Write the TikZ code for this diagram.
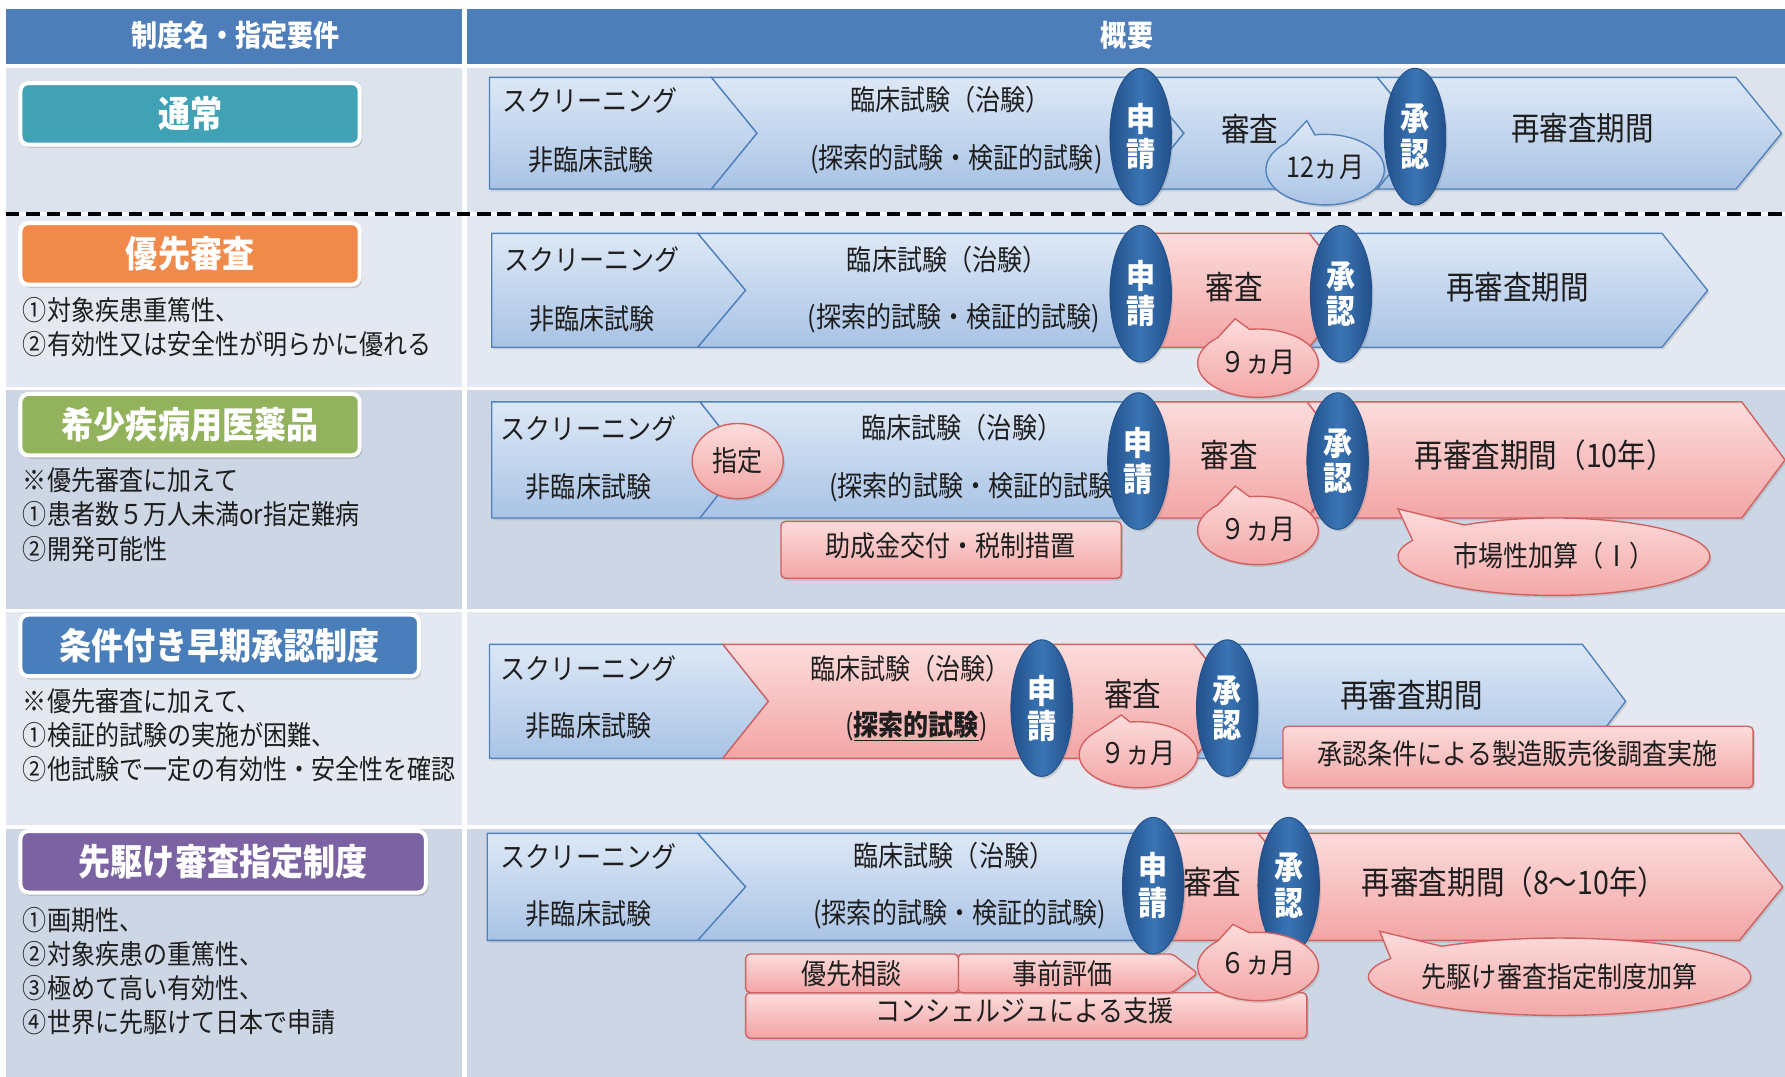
\documentclass[tikz,border=0pt]{standalone}
\usepackage{fontspec}
\setmainfont{Noto Sans CJK JP}[FakeStretch=0.88]
\usetikzlibrary{shapes.geometric,shadows}
\definecolor{hdr}{HTML}{4D7EBA}
\definecolor{rowA}{HTML}{DCE3EC}
\definecolor{rowB}{HTML}{E4E9F1}
\definecolor{rowC}{HTML}{CCD6E4}
\definecolor{txt}{HTML}{1E1E1E}
\definecolor{bTop}{HTML}{DDE8F6}
\definecolor{bBot}{HTML}{A9C3E5}
\definecolor{bLine}{HTML}{4F81BD}
\definecolor{rTop}{HTML}{FCDCDC}
\definecolor{rBot}{HTML}{F3A5A5}
\definecolor{rLine}{HTML}{D45F5F}
\definecolor{eDark}{HTML}{22508A}
\definecolor{eMid}{HTML}{3A74B4}
\definecolor{cTeal}{HTML}{41A2B5}
\definecolor{cOrange}{HTML}{F08A4B}
\definecolor{cGreen}{HTML}{92B35C}
\definecolor{cBlue}{HTML}{4A7EBA}
\definecolor{cPurple}{HTML}{7B62A3}
\tikzset{
  shd/.style={drop shadow={opacity=0.25,shadow xshift=1.5pt,shadow yshift=-2pt}},
  blueCh/.style={top color=bTop, bottom color=bBot, draw=bLine, line width=1.2pt, shd},
  redCh/.style={top color=rTop, bottom color=rBot, draw=rLine, line width=1.2pt, shd},
  jt/.style={text=txt, inner sep=0pt, font=\fontsize{25}{30}\selectfont},
  jtbig/.style={text=txt, inner sep=0pt, font=\fontsize{28.5}{32}\selectfont},
  desc/.style={anchor=west, align=left, text=txt, inner sep=0pt, font=\fontsize{24}{30}\selectfont},
  hdrtxt/.style={text=white, inner sep=0pt, font=\bfseries\fontsize{26}{30}\selectfont},
  titlebox/.style={rounded corners=7pt, draw=white, line width=3.5pt, text=white, inner sep=0pt,
     font=\bfseries\fontsize{32}{36}\selectfont, minimum height=54pt,
     drop shadow={opacity=0.3,shadow xshift=2pt,shadow yshift=-3pt}},
  appEll/.style={ellipse, minimum width=54pt, minimum height=120pt, inner sep=0pt,
     left color=eDark, right color=eDark, middle color=eMid, draw=eDark, line width=0.8pt,
     text=white, align=center, font=\bfseries\fontsize{29}{31}\selectfont, shd},
  pinkbox/.style={rounded corners=4pt, top color=rTop, bottom color=rBot, draw=rLine, line width=1.2pt, shd, inner sep=0pt},
  callB/.style={top color=bTop, bottom color=bBot, draw=bLine, line width=1.2pt, shd},
  callR/.style={top color=rTop, bottom color=rBot, draw=rLine, line width=1.2pt, shd},
}
% style, xL, xR, top, bottom, left notch, right tip
\newcommand\chevpath[7]{\path[#1] (#2,#4) -- (#3,#4) -- ({#3+#7},{(#4+#5)/2}) -- (#3,#5) -- (#2,#5) -- ({#2+#6},{(#4+#5)/2}) -- cycle;}
% style, cx, cy, rx, ry, a1, a2, tipx, tipy
\newcommand\callpath[9]{\path[#1] (#2,#3) ++(#7:#4 and #5) arc[start angle=#7, end angle={#6+360}, x radius=#4, y radius=#5] -- (#8,#9) -- cycle;}
\begin{document}
\begin{tikzpicture}[x=1pt,y=-1pt]
\useasboundingbox (0,0) rectangle (1568,946);
\fill[white] (0,0) rectangle (1568,946);
% header
\fill[hdr] (5,8) rectangle (406,56);
\fill[hdr] (410,8) rectangle (1568,56);
\node[hdrtxt] (h1) at (207,31) {制度名・指定要件};
\node[hdrtxt] (h2) at (990,31) {概要};
% row backgrounds
\fill[rowA] (5,60) rectangle (406,186);   \fill[rowA] (410,60) rectangle (1568,186);
\fill[rowB] (5,190) rectangle (406,340);  \fill[rowB] (410,190) rectangle (1568,340);
\fill[rowC] (5,343) rectangle (406,535);  \fill[rowC] (410,343) rectangle (1568,535);
\fill[rowB] (5,538) rectangle (406,725);  \fill[rowB] (410,538) rectangle (1568,725);
\fill[rowC] (5,728) rectangle (406,946);  \fill[rowC] (410,728) rectangle (1568,946);
\draw[black, line width=3pt, dash pattern=on 12pt off 6pt] (5,188) -- (1568,188);
% title boxes
\node[titlebox, fill=cTeal, minimum width=298pt] (t1) at (167,100) {通常};
\node[titlebox, fill=cOrange, minimum width=298pt] (t2) at (167,223) {優先審査};
\node[titlebox, fill=cGreen, minimum width=298pt] (t3) at (167,373) {希少疾病用医薬品};
\node[titlebox, fill=cBlue, minimum width=350pt] (t4) at (193,567) {条件付き早期承認制度};
\node[titlebox, fill=cPurple, minimum width=356pt] (t5) at (196,757) {先駆け審査指定制度};
% descriptions
\node[desc] (d2) at (20,287) {①対象疾患重篤性、\\②有効性又は安全性が明らかに優れる};
\node[desc] (d3) at (20,452) {※優先審査に加えて\\①患者数５万人未満or指定難病\\②開発可能性};
\node[desc] (d4) at (20,646) {※優先審査に加えて、\\①検証的試験の実施が困難、\\②他試験で一定の有効性・安全性を確認};
\node[desc] (d5) at (20,853) {①画期性、\\②対象疾患の重篤性、\\③極めて高い有効性、\\④世界に先駆けて日本で申請};
% ---------- row 1 ----------
\chevpath{blueCh}{430}{625}{68}{166}{0}{40}
\chevpath{blueCh}{625}{1000}{68}{166}{40}{40}
\chevpath{blueCh}{1000}{1210}{68}{166}{40}{40}
\chevpath{blueCh}{1210}{1525}{68}{166}{40}{40}
% ---------- row 2 ----------
\chevpath{blueCh}{432}{613}{205}{305}{0}{42}
\chevpath{blueCh}{613}{1000}{205}{305}{42}{40}
\chevpath{blueCh}{1150}{1460}{205}{305}{40}{40}
\chevpath{redCh}{1000}{1150}{205}{305}{0}{40}
% ---------- row 3 ----------
\chevpath{blueCh}{432}{615}{353}{455}{0}{40}
\chevpath{blueCh}{615}{1000}{353}{455}{40}{40}
\chevpath{redCh}{1148}{1530}{353}{455}{40}{38}
\chevpath{redCh}{1000}{1148}{353}{455}{0}{40}
% ---------- row 4 ----------
\chevpath{blueCh}{430}{635}{566}{666}{0}{40}
\chevpath{blueCh}{1049}{1390}{566}{666}{40}{38}
\chevpath{redCh}{635}{1049}{566}{666}{40}{40}
% ---------- row 5 ----------
\chevpath{blueCh}{428}{613}{732}{826}{0}{42}
\chevpath{blueCh}{613}{1013}{732}{826}{42}{40}
\chevpath{redCh}{1105}{1528}{732}{826}{40}{38}
\chevpath{redCh}{1013}{1105}{732}{826}{0}{40}
% chevron texts
\node[jt] (s1) at (518,88) {スクリーニング};
\node[jt] (n1) at (519,140) {非臨床試験};
\node[jt] (c1) at (835,88) {臨床試験（治験）};
\node[jt] (e1) at (840,140) {(探索的試験・検証的試験)};
\node[jtbig] (r1) at (1098,113) {審査};
\node[jtbig] (p1) at (1390,113) {再審査期間};
\node[jt] (s2) at (520,228) {スクリーニング};
\node[jt] (n2) at (520,280) {非臨床試験};
\node[jt] (c2) at (832,228) {臨床試験（治験）};
\node[jt] (e2) at (838,280) {(探索的試験・検証的試験)};
\node[jtbig] (r2) at (1084,252) {審査};
\node[jtbig] (p2) at (1333,252) {再審査期間};
\node[jt] (s3) at (517,376) {スクリーニング};
\node[jt] (n3) at (517,428) {非臨床試験};
\node[jt] (c3) at (845,376) {臨床試験（治験）};
\node[jt] (e3) at (857,428) {(探索的試験・検証的試験)};
\node[jtbig] (r3) at (1080,400) {審査};
\node[jtbig] (p3) at (1357,400) {再審査期間（10年）};
\node[jt] (s4) at (517,587) {スクリーニング};
\node[jt] (n4) at (517,638) {非臨床試験};
\node[jt] (c4) at (800,587) {臨床試験（治験）};
\node[jt] (e4) at (805,638) {(\underline{\bfseries 探索的試験})};
\node[jtbig] (r4) at (995,610) {審査};
\node[jtbig] (p4) at (1240,611) {再審査期間};
\node[jt] (s5) at (517,752) {スクリーニング};
\node[jt] (n5) at (517,803) {非臨床試験};
\node[jt] (c5) at (838,752) {臨床試験（治験）};
\node[jt] (e5) at (843,803) {(探索的試験・検証的試験)};
\node[jtbig] (r5) at (1065,775) {審査};
\node[jtbig] (p5) at (1330,775) {再審査期間（8～10年）};
% pink boxes
\node[pinkbox, minimum width=299pt, minimum height=50pt] (b3) at (835.5,483) {};
\node[jt] (b3t) at (835,479) {助成金交付・税制措置};
\node[pinkbox, minimum width=413pt, minimum height=54pt] (b4) at (1333.5,665) {};
\node[jt] (b4t) at (1333,662) {承認条件による製造販売後調査実施};
\node[pinkbox, minimum width=493pt, minimum height=40pt] (b5c) at (901.5,892) {};
\node[jt] (b5ct) at (900,888) {コンシェルジュによる支援};
\node[pinkbox, minimum width=187pt, minimum height=34pt] (b5a) at (748.5,855) {};
\node[jt] (b5at) at (748,855) {優先相談};
\path[redCh, rounded corners=3pt] (842,838) -- (1030,838) -- (1052,855) -- (1030,872) -- (842,872) -- cycle;
\node[jt] (b5bt) at (933,855) {事前評価};
% designation circle
\node[ellipse, minimum width=80pt, minimum height=66pt, top color=rTop, bottom color=rBot, draw=rLine, line width=1.2pt, shd, inner sep=0pt, text=txt, font=\fontsize{25}{30}\selectfont] (des) at (648,405) {指定};
% application / approval ellipses
\node[appEll] (a1) at (1002,120) {申\\請};
\node[appEll] (k1) at (1243,120) {承\\認};
\node[appEll] (a2) at (1002,258) {申\\請};
\node[appEll] (k2) at (1178,258) {承\\認};
\node[appEll] (a3) at (1000,405) {申\\請};
\node[appEll] (k3) at (1175,405) {承\\認};
\node[appEll] (a4) at (915,622) {申\\請};
\node[appEll] (k4) at (1078,622) {承\\認};
\node[appEll] (a5) at (1013,778) {申\\請};
\node[appEll] (k5) at (1132,778) {承\\認};
% callouts
\callpath{callB}{1164}{149}{52}{31}{228}{260}{1148}{106}
\node[jt] (m1) at (1164,147) {12ヵ月};
\callpath{callR}{1105}{319}{53}{30}{228}{262}{1085}{280}
\node[jt] (m2) at (1105,318) {９ヵ月};
\callpath{callR}{1105}{466}{53}{30}{228}{262}{1085}{427}
\node[jt] (m3) at (1105,465) {９ヵ月};
\callpath{callR}{1000}{663}{52}{29}{228}{262}{985}{628}
\node[jt] (m4) at (1000,662) {９ヵ月};
\callpath{callR}{1105}{849}{53}{30}{228}{262}{1083}{812}
\node[jt] (m5) at (1105,846) {６ヵ月};
\callpath{callR}{1365}{489}{137}{34}{205}{235}{1228}{447}
\node[jt] (x3) at (1365,488) {市場性加算（Ⅰ）};
\callpath{callR}{1370}{858}{168}{34}{208}{232}{1212}{818}
\node[jt] (x5) at (1370,858) {先駆け審査指定制度加算};
\end{tikzpicture}
\end{document}
